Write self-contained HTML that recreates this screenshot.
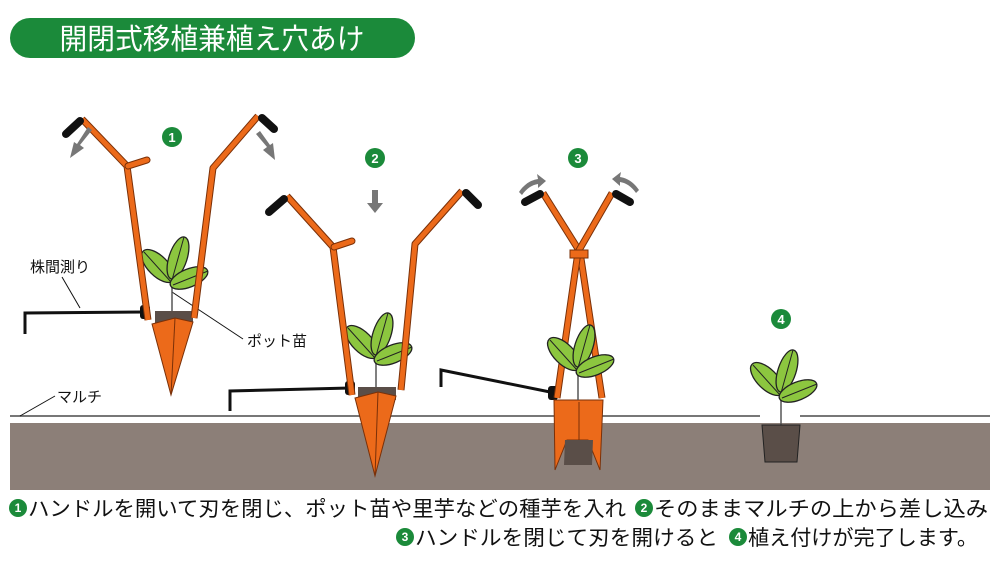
<!DOCTYPE html>
<html><head><meta charset="utf-8"><style>
html,body{margin:0;padding:0;background:#fff;width:1000px;height:573px;overflow:hidden}
svg{display:block}
text{font-family:"Liberation Sans","Noto Sans CJK JP",sans-serif}
</style></head><body>
<svg width="1000" height="573" viewBox="0 0 1000 573" xmlns="http://www.w3.org/2000/svg">
<defs>
<g id="plant">
<line x1="0" y1="0" x2="0" y2="-38" stroke="#555" stroke-width="1.5"/>
<ellipse cx="-14" cy="-46" rx="21" ry="10" transform="rotate(45 -14 -46)" fill="#8cc63f" stroke="#222" stroke-width="1.3"/>
<line x1="-28" y1="-60" x2="-1" y2="-30" stroke="#222" stroke-width="1"/>
<ellipse cx="6" cy="-54" rx="22" ry="9" transform="rotate(-72 6 -54)" fill="#8cc63f" stroke="#222" stroke-width="1.3"/>
<line x1="12" y1="-75" x2="0" y2="-32" stroke="#222" stroke-width="1"/>
<ellipse cx="17" cy="-34" rx="20" ry="9" transform="rotate(-22 17 -34)" fill="#8cc63f" stroke="#222" stroke-width="1.3"/>
<line x1="36" y1="-41" x2="1" y2="-27" stroke="#222" stroke-width="1"/>
</g>
</defs>
<rect x="10" y="18" width="405" height="40" rx="20" fill="#1b8a3a"/>
<text x="212" y="49" font-size="29" fill="#fff" text-anchor="middle" textLength="305" lengthAdjust="spacingAndGlyphs">開閉式移植兼植え穴あけ</text>

<rect x="10" y="423" width="980" height="67" fill="#8c7f78"/>
<line x1="10" y1="416" x2="760" y2="416" stroke="#777" stroke-width="2"/>
<line x1="800" y1="416" x2="990" y2="416" stroke="#777" stroke-width="2"/>

<text x="30" y="272" font-size="15" fill="#111">株間測り</text>
<line x1="62" y1="277" x2="80" y2="308" stroke="#111" stroke-width="1"/>
<text x="247" y="346" font-size="15" fill="#111">ポット苗</text>
<line x1="172" y1="292" x2="243" y2="339" stroke="#111" stroke-width="1"/>
<text x="57" y="402" font-size="15" fill="#111">マルチ</text>
<line x1="20" y1="416" x2="55" y2="396" stroke="#111" stroke-width="1"/>

<!-- TOOL 1 -->
<path d="M25,334 L25,313 L145,312" fill="none" stroke="#111" stroke-width="3"/>
<rect x="140" y="305" width="10" height="14" rx="3" fill="#111"/>
<use href="#plant" x="172" y="312"/>
<polygon points="155,311 193,311 193,323 155,323" fill="#5a4e48"/>
<polygon points="152,324 175,318 193,322 171,395" fill="#ec6a1a" stroke="#7a3008" stroke-width="1"/>
<line x1="175" y1="318" x2="171" y2="395" stroke="#7a3008" stroke-width="1"/>
<path d="M82,119 L127,166 L148,320" fill="none" stroke="#7a3008" stroke-width="7" stroke-linejoin="round"/>
<path d="M82,119 L127,166 L148,320" fill="none" stroke="#ec6a1a" stroke-width="5" stroke-linejoin="round"/>
<path d="M128,166 L147,160" stroke="#7a3008" stroke-width="7" stroke-linecap="round"/>
<path d="M128,166 L147,160" stroke="#ec6a1a" stroke-width="5" stroke-linecap="round"/>
<path d="M258,116 L213,168 L194,318" fill="none" stroke="#7a3008" stroke-width="7" stroke-linejoin="round"/>
<path d="M258,116 L213,168 L194,318" fill="none" stroke="#ec6a1a" stroke-width="5" stroke-linejoin="round"/>
<line x1="66" y1="134" x2="80" y2="121" stroke="#111" stroke-width="8" stroke-linecap="round"/>
<line x1="262" y1="118" x2="274" y2="129" stroke="#111" stroke-width="8" stroke-linecap="round"/>

<!-- TOOL 2 -->
<path d="M230,411 L230,391 L350,388" fill="none" stroke="#111" stroke-width="3"/>
<rect x="345" y="381" width="10" height="14" rx="3" fill="#111"/>
<use href="#plant" x="376" y="388"/>
<polygon points="358,387 396,387 396,400 358,400" fill="#5a4e48"/>
<polygon points="355,398 378,392 396,396 375,476" fill="#ec6a1a" stroke="#7a3008" stroke-width="1"/>
<line x1="378" y1="392" x2="375" y2="476" stroke="#7a3008" stroke-width="1"/>
<path d="M287,196 L333,247 L352,395" fill="none" stroke="#7a3008" stroke-width="7" stroke-linejoin="round"/>
<path d="M287,196 L333,247 L352,395" fill="none" stroke="#ec6a1a" stroke-width="5" stroke-linejoin="round"/>
<path d="M334,247 L352,241" stroke="#7a3008" stroke-width="7" stroke-linecap="round"/>
<path d="M334,247 L352,241" stroke="#ec6a1a" stroke-width="5" stroke-linecap="round"/>
<path d="M462,191 L415,244 L401,390" fill="none" stroke="#7a3008" stroke-width="7" stroke-linejoin="round"/>
<path d="M462,191 L415,244 L401,390" fill="none" stroke="#ec6a1a" stroke-width="5" stroke-linejoin="round"/>
<line x1="269" y1="212" x2="284" y2="199" stroke="#111" stroke-width="8" stroke-linecap="round"/>
<line x1="466" y1="193" x2="478" y2="205" stroke="#111" stroke-width="8" stroke-linecap="round"/>

<!-- TOOL 3 -->
<path d="M441,387 L441,370 L555,393" fill="none" stroke="#111" stroke-width="3"/>
<rect x="548" y="386" width="10" height="14" rx="3" fill="#111"/>
<polygon points="554,400 603,400 600,470 588,440 567,440 555,470" fill="#ec6a1a" stroke="#7a3008" stroke-width="1"/>
<line x1="579" y1="402" x2="579" y2="440" stroke="#7a3008" stroke-width="1"/>
<polygon points="565,440 593,440 592,465 564,465" fill="#5a4e48"/>
<path d="M543,193 L580,252 L602,398" fill="none" stroke="#7a3008" stroke-width="7" stroke-linejoin="round"/>
<path d="M543,193 L580,252 L602,398" fill="none" stroke="#ec6a1a" stroke-width="5" stroke-linejoin="round"/>
<path d="M612,193 L578,252 L557,398" fill="none" stroke="#7a3008" stroke-width="7" stroke-linejoin="round"/>
<path d="M612,193 L578,252 L557,398" fill="none" stroke="#ec6a1a" stroke-width="5" stroke-linejoin="round"/>
<rect x="570" y="250" width="18" height="8" fill="#ec6a1a" stroke="#7a3008" stroke-width="1"/>
<use href="#plant" x="578" y="400"/>
<line x1="525" y1="202" x2="540" y2="194" stroke="#111" stroke-width="8" stroke-linecap="round"/>
<line x1="616" y1="194" x2="630" y2="202" stroke="#111" stroke-width="8" stroke-linecap="round"/>

<!-- PLANT 4 -->
<use href="#plant" x="781" y="425"/>
<polygon points="762,425 800,425 797,462 765,462" fill="#5a4e48" stroke="#222" stroke-width="1"/>

<g fill="#777">
<path d="M92,130 L80,145 L84,148 L70,158 L74,142 L77,144 L88,127Z"/>
<path d="M256,134 L267,147 L263,150 L275,160 L273,143 L270,145 L260,131Z"/>
<path d="M372,190 L378,190 L378,203 L383,203 L375,213 L367,203 L372,203Z"/>
<path d="M519,192 C525,183 532,180 538,179 L537,174 L546,181 L538,188 L538,184 C532,185 527,188 522,195Z"/>
<path d="M639,190 C633,181 626,178 620,177 L621,172 L612,179 L620,186 L620,182 C626,183 631,186 636,193Z"/>
</g>

<g font-size="13" font-weight="bold" fill="#fff" text-anchor="middle">
<circle cx="172" cy="137" r="10" fill="#1b8a3a"/><text x="172" y="142">1</text>
<circle cx="375" cy="158" r="10" fill="#1b8a3a"/><text x="375" y="163">2</text>
<circle cx="578" cy="158" r="10" fill="#1b8a3a"/><text x="578" y="163">3</text>
<circle cx="781" cy="319" r="10" fill="#1b8a3a"/><text x="781" y="324">4</text>
</g>

<g font-size="12" font-weight="bold" fill="#fff" text-anchor="middle">
<circle cx="18" cy="508" r="9" fill="#1b8a3a"/><text x="18" y="512">1</text>
<circle cx="644" cy="508" r="9" fill="#1b8a3a"/><text x="644" y="512">2</text>
<circle cx="405" cy="537" r="9" fill="#1b8a3a"/><text x="405" y="541">3</text>
<circle cx="738" cy="537" r="9" fill="#1b8a3a"/><text x="738" y="541">4</text>
</g>
<g font-size="21" fill="#111">
<text x="28" y="516" textLength="598" lengthAdjust="spacingAndGlyphs">ハンドルを開いて刃を閉じ、ポット苗や里芋などの種芋を入れ</text>
<text x="654" y="516" textLength="334" lengthAdjust="spacingAndGlyphs">そのままマルチの上から差し込み</text>
<text x="415" y="545" textLength="303" lengthAdjust="spacingAndGlyphs">ハンドルを閉じて刃を開けると</text>
<text x="748" y="545" textLength="230" lengthAdjust="spacingAndGlyphs">植え付けが完了します。</text>
</g>
</svg>
</body></html>
